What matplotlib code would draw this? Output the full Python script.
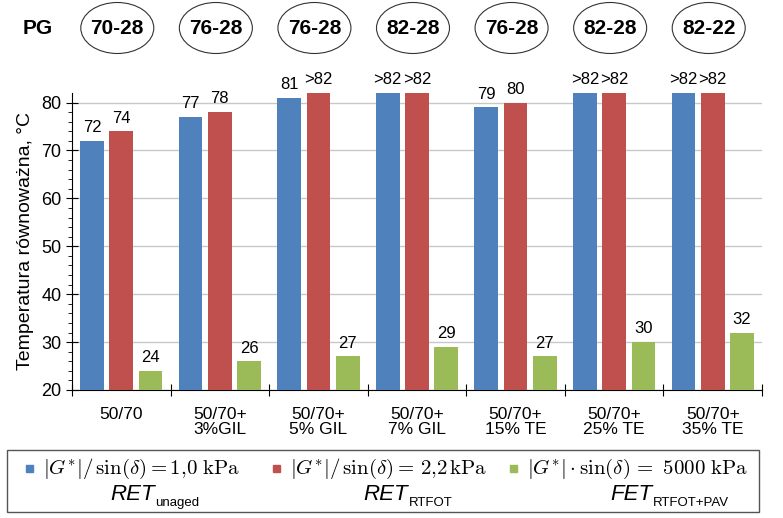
import numpy as np
import matplotlib.pyplot as plt
from matplotlib.patches import Ellipse, Rectangle

plt.rcParams['font.family'] = ['Liberation Sans', 'DejaVu Sans']
plt.rcParams['mathtext.fontset'] = 'cm'

categories = ["50/70", "50/70+\n3%GIL", "50/70+\n5% GIL", "50/70+\n7% GIL",
              "50/70+\n15% TE", "50/70+\n25% TE", "50/70+\n35% TE"]
pg_grades = ["70-28", "76-28", "76-28", "82-28", "76-28", "82-28", "82-22"]
g_unaged = [72, 77, 81, 82, 79, 82, 82]
g_rtfot = [74, 78, 82, 82, 80, 82, 82]
g_pav = [24, 26, 27, 29, 27, 30, 32]
lab_unaged = ["72", "77", "81", ">82", "79", ">82", ">82"]
lab_rtfot = ["74", "78", ">82", ">82", "80", ">82", ">82"]
lab_pav = ["24", "26", "27", "29", "27", "30", "32"]

colors = ["#4f81bd", "#c0504d", "#9bbb59"]

fig = plt.figure(figsize=(7.83, 5.18), dpi=100)
W, H = 783, 518
ax = fig.add_axes([72 / W, 1 - 390 / H, (762 - 72) / W, (390 - 93) / H])

x = np.arange(len(categories)) + 0.5
width = 0.24
offs = [-0.297, 0, 0.297]
for vals, labs, col, off in zip([g_unaged, g_rtfot, g_pav],
                                [lab_unaged, lab_rtfot, lab_pav], colors, offs):
    bars = ax.bar(x + off, np.array(vals) - 20, width, bottom=20, color=col, zorder=3)
    for b, lab in zip(bars, labs):
        ax.text(b.get_x() + b.get_width() / 2, b.get_y() + b.get_height() + 1.2, lab,
                ha='center', va='bottom', fontsize=12, clip_on=False)

ax.set_xlim(0, len(categories))
ax.set_ylim(20, 82)
ax.set_yticks(np.arange(20, 81, 10))
ax.set_yticks(np.arange(20, 82, 2), minor=True)
ax.yaxis.grid(True, color='#c8c8c8', linewidth=1, zorder=0)
ax.set_xticks(np.arange(len(categories) + 1))
ax.set_xticklabels([])
ax.set_xticks(x, minor=True)
ax.set_xticklabels(categories, minor=True, fontsize=12.5, linespacing=1.05)
ax.tick_params(axis='x', which='minor', length=0, pad=12)
ax.tick_params(axis='x', which='major', direction='inout', length=8)
ax.tick_params(axis='y', which='major', direction='inout', length=8, labelsize=13)
ax.tick_params(axis='y', which='minor', direction='out', length=3)
for s in ['top', 'right']:
    ax.spines[s].set_visible(False)
ax.set_ylabel("Temperatura równoważna, °C", fontsize=14, labelpad=5)

# PG grades in ellipses
fig.text(38 / W, 1 - 29 / H, "PG", fontsize=15, fontweight='bold', ha='center', va='center')
for xi, pg in zip(x, pg_grades):
    xf = (72 + xi * (690 / len(categories)) - 4) / W
    e = Ellipse((xf, 1 - 28 / H), 73 / W, 51 / H, transform=fig.transFigure,
                fill=False, edgecolor='#333333', linewidth=0.8)
    fig.add_artist(e)
    fig.text(xf, 1 - 29 / H, pg, fontsize=15, fontweight='bold', ha='center', va='center')

# legend box
fig.add_artist(Rectangle((7 / W, 1 - 512 / H), (759 - 7) / W, (512 - 450) / H,
                         transform=fig.transFigure, fill=False, edgecolor='#555555', linewidth=1))
leg_x = [26, 273, 510]
leg_txt = [r"$|G^{*}|/\,\sin(\delta) = 1{,}0\ \mathrm{kPa}$",
           r"$|G^{*}|/\,\sin(\delta) =\, 2{,}2\,\mathrm{kPa}$",
           r"$|G^{*}| \cdot \sin(\delta)\, =\ 5000\ \mathrm{kPa}$"]
for lx, col, t in zip(leg_x, colors, leg_txt):
    fig.add_artist(Rectangle((lx / W, 1 - 472 / H), 7 / W, 7 / H,
                             transform=fig.transFigure, color=col))
    fig.text((lx + 17) / W, 1 - 469 / H, t, fontsize=15, va='center', ha='left')
sub_x = [110, 363, 610]
sub_txt = [("RET", "unaged"), ("RET", "RTFOT"), ("FET", "RTFOT+PAV")]
for sx, (main, sub) in zip(sub_x, sub_txt):
    t = fig.text(sx / W, 1 - 500 / H, main, fontsize=16, style='italic',
                 va='baseline', ha='left')
    fig.canvas.draw()
    bb = t.get_window_extent()
    fig.text(bb.x1 / W + 1 / W, 1 - 506 / H, sub, fontsize=9.5,
             va='baseline', ha='left')

fig.savefig("out.png", dpi=100)
